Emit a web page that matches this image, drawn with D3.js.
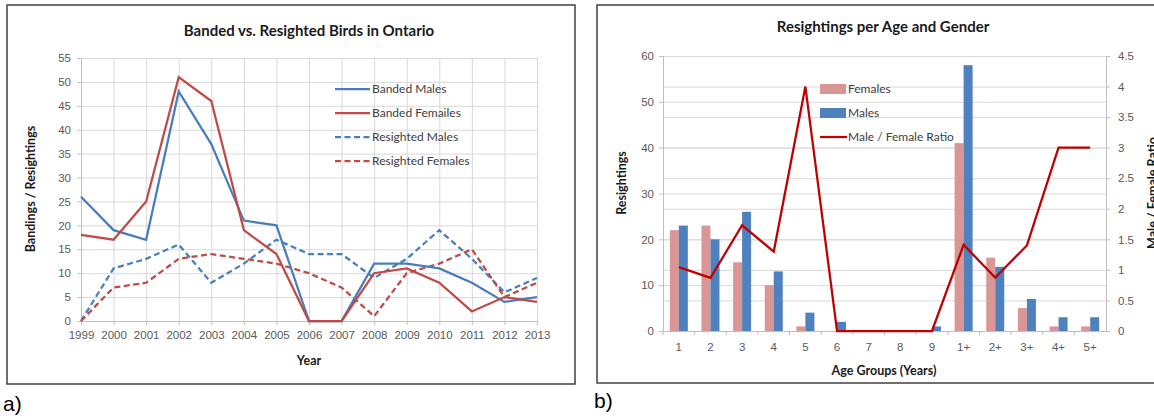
<!DOCTYPE html>
<meta charset="utf-8">
<style>
body { margin: 0; background: #fff; }
svg { display: block; font-family: Lato, "Open Sans", sans-serif; }
.tick text { fill: #595959; font-size: 11.5px; }
.grid line { stroke: #d9d9d9; }
.grid .domain { display: none; }
</style>
<svg width="1154" height="416"></svg>
<script src="https://cdn.jsdelivr.net/npm/d3@7"></script>
<script>

// ---- panel a data
var years = ["1999","2000","2001","2002","2003","2004","2005","2006","2007","2008","2009","2010","2011","2012","2013"];
var bandedMales       = [26, 19, 17, 48, 37, 21, 20, 0, 0, 12, 12, 11, 8, 4, 5];
var bandedFemales     = [18, 17, 25, 51, 46, 19, 14, 0, 0, 10, 11, 8, 2, 5, 4];
var resightedMales    = [0, 11, 13, 16, 8, 12, 17, 14, 14, 9, 13, 19, 13, 6, 9];
var resightedFemales  = [0, 7, 8, 13, 14, 13, 12, 10, 7, 1, 10, 12, 15, 5, 8];
var seriesNames = ["Banded Males", "Banded Femailes", "Resighted Males", "Resighted Females"];

// ---- panel b data
var ageGroups = ["1","2","3","4","5","6","7","8","9","1+","2+","3+","4+","5+"];
var females = [22, 23, 15, 10, 1, 0, 0, 0, 0, 41, 16, 5, 1, 1];
var males   = [23, 20, 26, 13, 4, 2, 0, 0, 1, 58, 14, 7, 3, 3];
var ratio   = [1.045, 0.87, 1.73, 1.3, 4, 0, 0, 0, 0, 1.41, 0.875, 1.4, 3, 3];
var ratioTicks = [0, 0.5, 1, 1.5, 2, 2.5, 3, 3.5, 4, 4.5];

var blue = "#4a7ebb", red = "#be4b48";
var svg = d3.select("svg");

// ================= panel a =================
var a = svg.append("g");
a.append("rect").attr("x", 7).attr("y", 5).attr("width", 568).attr("height", 379)
  .attr("fill", "none").attr("stroke", "#404040").attr("stroke-width", 1.5);

var x = d3.scalePoint().domain(years).range([81, 537]);
var y = d3.scaleLinear().domain([0, 55]).range([321, 58]);

a.append("g").attr("class", "grid")
  .attr("transform", "translate(81,0)")
  .call(d3.axisLeft(y).tickValues(d3.range(5, 56, 5)).tickSize(-456).tickFormat(""));
a.append("g").attr("class", "grid")
  .attr("transform", "translate(0,58)")
  .call(d3.axisBottom(x).tickSize(263).tickFormat(""));

var ya = a.append("g").attr("transform", "translate(81,0)")
  .call(d3.axisLeft(y).tickValues(d3.range(0, 56, 5)).tickSize(4).tickPadding(6));
ya.select(".domain").attr("stroke", "#bfbfbf");
ya.selectAll(".tick line").attr("stroke", "#bfbfbf");

var xa = a.append("g").attr("transform", "translate(0,321)")
  .call(d3.axisBottom(x).tickSize(4).tickPadding(6));
xa.select(".domain").attr("stroke", "#bfbfbf");
xa.selectAll(".tick line").attr("stroke", "#bfbfbf");

var lineA = d3.line().x(function(d, i) { return x(years[i]); }).y(function(d) { return y(d); });
var seriesA = [
  {vals: resightedMales, color: blue, dash: "6,3.5"},
  {vals: resightedFemales, color: red, dash: "6,3.5"},
  {vals: bandedMales, color: blue, dash: null},
  {vals: bandedFemales, color: red, dash: null}
];
a.selectAll("path.series").data(seriesA).enter().append("path")
  .attr("class", "series")
  .attr("d", function(d) { return lineA(d.vals); })
  .attr("fill", "none")
  .attr("stroke", function(d) { return d.color; })
  .attr("stroke-width", 2.25)
  .attr("stroke-dasharray", function(d) { return d.dash; });

var legA = a.append("g");
var legStyles = [[blue, null], [red, null], [blue, "6,3.5"], [red, "6,3.5"]];
seriesNames.forEach(function(n, i) {
  var yy = 89 + i * 24;
  legA.append("line").attr("x1", 335).attr("x2", 370).attr("y1", yy).attr("y2", yy)
    .attr("stroke", legStyles[i][0]).attr("stroke-width", 2.25)
    .attr("stroke-dasharray", legStyles[i][1]);
  legA.append("text").attr("x", 372).attr("y", yy).attr("dy", "0.35em")
    .attr("font-size", 12).attr("fill", "#404040").text(n);
});

a.append("text").attr("x", 309).attr("y", 36).attr("text-anchor", "middle")
  .attr("font-size", 15).attr("font-weight", "bold").attr("fill", "#1a1a1a")
  .text("Banded vs. Resighted Birds in Ontario");
a.append("text").attr("x", 309).attr("y", 365).attr("text-anchor", "middle")
  .attr("font-size", 12.5).attr("font-weight", "bold").attr("fill", "#1a1a1a").text("Year");
a.append("text").attr("transform", "translate(35,189) rotate(-90)").attr("text-anchor", "middle")
  .attr("font-size", 12.5).attr("font-weight", "bold").attr("fill", "#1a1a1a")
  .text("Bandings / Resightings");
svg.append("text").attr("x", 3).attr("y", 411).attr("font-size", 21)
  .attr("font-family", "Arial, 'Liberation Sans', sans-serif").text("a)");

// ================= panel b =================
var b = svg.append("g");
b.append("rect").attr("x", 597).attr("y", 5).attr("width", 570).attr("height", 378)
  .attr("fill", "none").attr("stroke", "#404040").attr("stroke-width", 1.5);

var xb = d3.scaleBand().domain(ageGroups).range([663, 1106]);
var xs = d3.scaleBand().domain(["F", "M"]).range([0, 18]);
var yl = d3.scaleLinear().domain([0, 60]).range([331, 56]);
var yr = d3.scaleLinear().domain([0, 4.5]).range([331, 56]);
var off = (xb.bandwidth() - 18) / 2;

b.append("g").attr("class", "grid").attr("transform", "translate(663,0)")
  .call(d3.axisLeft(yl).tickValues(d3.range(10, 61, 10)).tickSize(-443).tickFormat(""));
b.append("g").attr("class", "grid").attr("transform", "translate(663,0)")
  .call(d3.axisLeft(yr).tickValues(ratioTicks.slice(1)).tickSize(-443).tickFormat(""));

b.append("g").selectAll("rect").data(females).enter().append("rect")
  .attr("x", function(d, i) { return xb(ageGroups[i]) + off + xs("F"); })
  .attr("y", function(d) { return yl(d); })
  .attr("width", xs.bandwidth())
  .attr("height", function(d) { return yl(0) - yl(d); })
  .attr("fill", "#d99694");
b.append("g").selectAll("rect").data(males).enter().append("rect")
  .attr("x", function(d, i) { return xb(ageGroups[i]) + off + xs("M"); })
  .attr("y", function(d) { return yl(d); })
  .attr("width", xs.bandwidth())
  .attr("height", function(d) { return yl(0) - yl(d); })
  .attr("fill", "#4f81bd");

var yla = b.append("g").attr("transform", "translate(663,0)")
  .call(d3.axisLeft(yl).tickValues(d3.range(0, 61, 10)).tickSize(4).tickPadding(5));
yla.select(".domain").attr("stroke", "#bfbfbf");
yla.selectAll(".tick line").attr("stroke", "#bfbfbf");

var yra = b.append("g").attr("transform", "translate(1106,0)")
  .call(d3.axisRight(yr).tickValues(ratioTicks).tickFormat(d3.format("~g")).tickSize(4).tickPadding(8));
yra.select(".domain").attr("stroke", "#bfbfbf");
yra.selectAll(".tick line").attr("stroke", "#bfbfbf");

var xba = b.append("g").attr("transform", "translate(0,331)")
  .call(d3.axisBottom(xb).tickSize(0).tickPadding(12));
xba.select(".domain").attr("stroke", "#bfbfbf");
b.append("g").selectAll("line").data(ageGroups).enter().append("line")
  .attr("x1", function(d) { return xb(d); }).attr("x2", function(d) { return xb(d); })
  .attr("y1", 331).attr("y2", 335).attr("stroke", "#bfbfbf");

var lineB = d3.line()
  .x(function(d, i) { return xb(ageGroups[i]) + xb.bandwidth() / 2; })
  .y(function(d) { return yr(d); });
b.append("path").attr("d", lineB(ratio)).attr("fill", "none")
  .attr("stroke", "#c00000").attr("stroke-width", 2.25);

// legend
var legB = b.append("g");
legB.append("rect").attr("x", 820).attr("y", 84).attr("width", 26).attr("height", 10).attr("fill", "#d99694");
legB.append("rect").attr("x", 820).attr("y", 108).attr("width", 26).attr("height", 10).attr("fill", "#4f81bd");
legB.append("line").attr("x1", 820).attr("x2", 847).attr("y1", 137).attr("y2", 137)
  .attr("stroke", "#c00000").attr("stroke-width", 2.25);
["Females", "Males", "Male / Female Ratio"].forEach(function(n, i) {
  legB.append("text").attr("x", 848).attr("y", 89 + i * 24).attr("dy", "0.35em")
    .attr("font-size", 12).attr("fill", "#404040").text(n);
});

b.append("text").attr("x", 883).attr("y", 32).attr("text-anchor", "middle")
  .attr("font-size", 15).attr("font-weight", "bold").attr("fill", "#1a1a1a")
  .text("Resightings per Age and Gender");
b.append("text").attr("x", 884).attr("y", 375).attr("text-anchor", "middle")
  .attr("font-size", 12.5).attr("font-weight", "bold").attr("fill", "#1a1a1a")
  .text("Age Groups (Years)");
b.append("text").attr("transform", "translate(626,183) rotate(-90)").attr("text-anchor", "middle")
  .attr("font-size", 12.5).attr("font-weight", "bold").attr("fill", "#1a1a1a")
  .text("Resightings");
// right-axis title runs off the page edge, as in the source figure
b.append("text").attr("transform", "translate(1157,193) rotate(-90)").attr("text-anchor", "middle")
  .attr("font-size", 12.5).attr("font-weight", "bold").attr("fill", "#1a1a1a")
  .text("Male / Female Ratio");
svg.append("text").attr("x", 594).attr("y", 408).attr("font-size", 21)
  .attr("font-family", "Arial, 'Liberation Sans', sans-serif").text("b)");

</script>
